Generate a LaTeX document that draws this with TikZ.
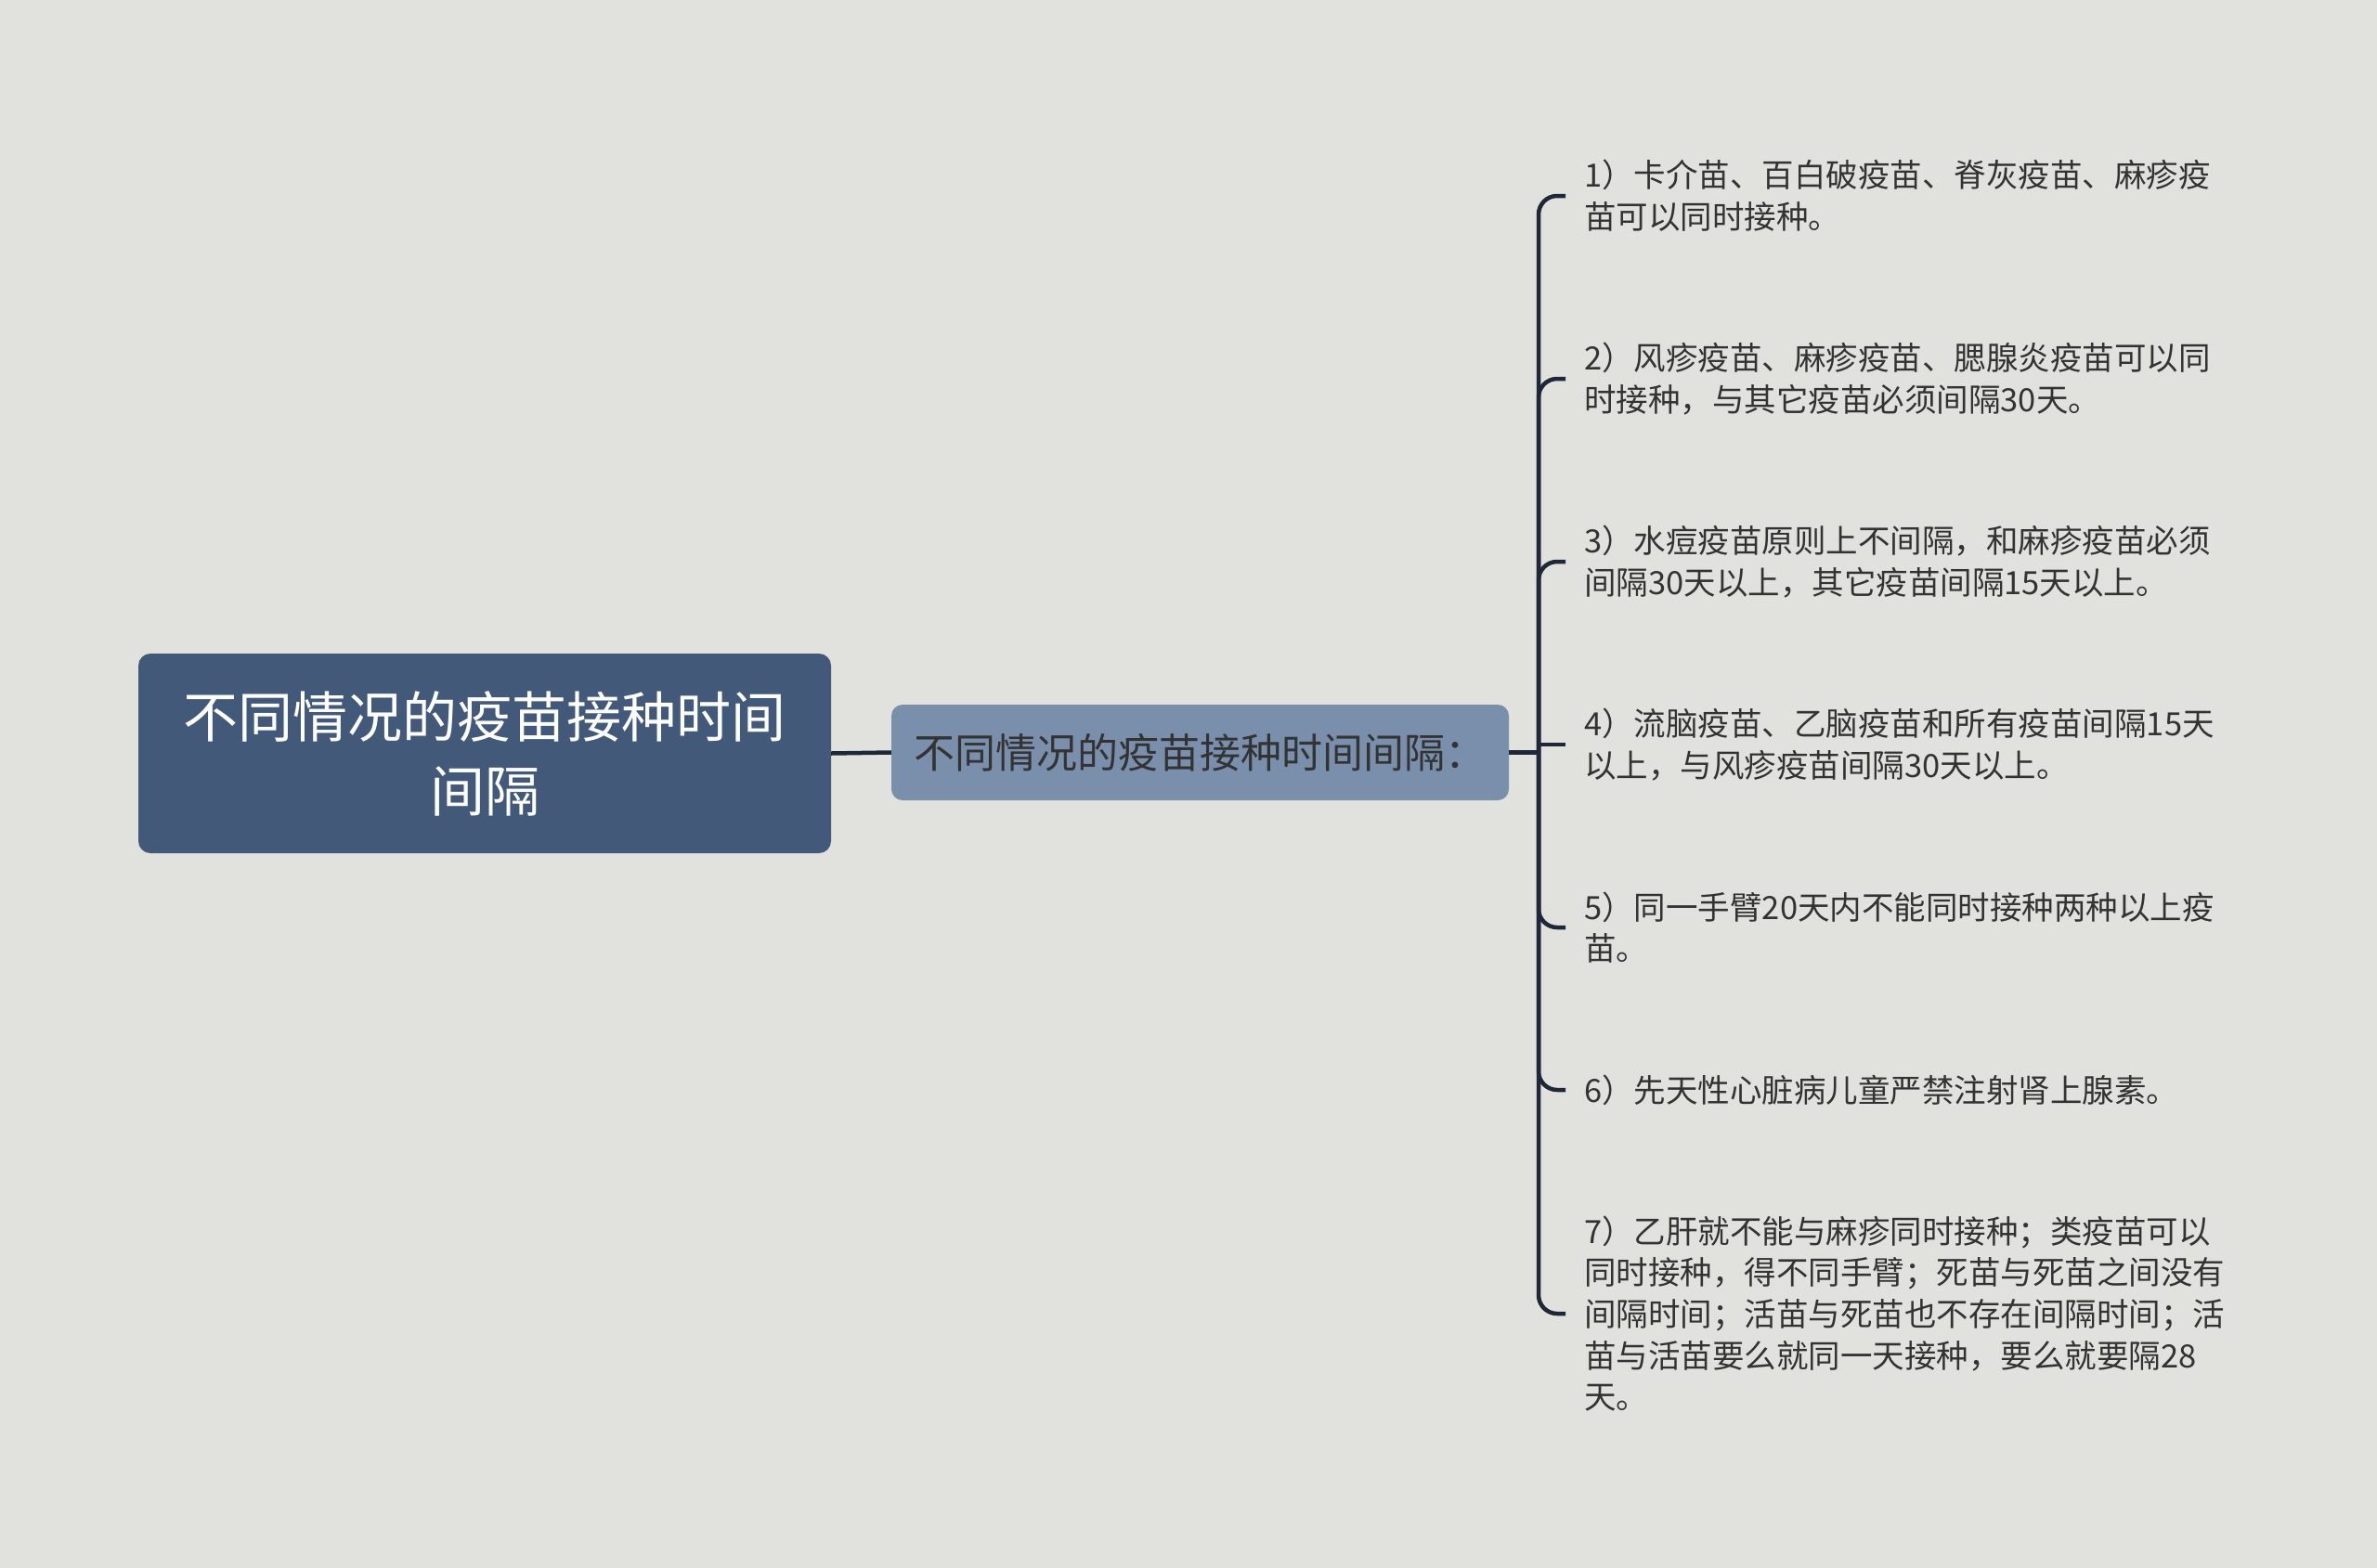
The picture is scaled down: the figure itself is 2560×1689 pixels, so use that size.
\documentclass[tikz,border=0pt]{standalone}
\usepackage{fontspec}
\newfontfamily\cjk{Noto Sans CJK SC}
\definecolor{bgc}{HTML}{E1E2DE}
\definecolor{rootc}{HTML}{42597A}
\definecolor{childc}{HTML}{7A8FAC}
\definecolor{linec}{HTML}{1F2838}
\definecolor{txtc}{HTML}{333333}
\begin{document}
\begin{tikzpicture}[x=1pt,y=-1pt,
  rootbox/.style={draw=none,fill=rootc,rounded corners=13pt,minimum width=746pt,minimum height=215pt,
    align=center,text=white,font=\cjk\fontsize{59}{80}\selectfont,inner sep=0pt},
  childbox/.style={draw=none,fill=childc,rounded corners=12pt,minimum width=665pt,minimum height=103pt,
    align=center,text=txtc,font=\cjk\fontsize{44}{56}\selectfont,inner sep=0pt},
  leaf/.style={anchor=west,align=left,text=txtc,font=\cjk\fontsize{34.5}{44.6}\selectfont,inner xsep=20pt,inner ysep=0pt},
  conn/.style={draw=linec,line width=4.5pt,rounded corners=20pt}]
\fill[bgc] (0,0) rectangle (2560,1689);
\useasboundingbox (0,0) rectangle (2560,1689);

\node[rootbox] (root) at (522,811.5) {不同情况的疫苗接种时间\\间隔};
\node[childbox] (child) at (1292.5,810.5) {不同情况的疫苗接种时间间隔：};

\node[leaf] (l1) at (1686,211) {1）卡介苗、百白破疫苗、脊灰疫苗、麻疹疫\\苗可以同时接种。};
\node[leaf] (l2) at (1686,408) {2）风疹疫苗、麻疹疫苗、腮腺炎疫苗可以同\\时接种，与其它疫苗必须间隔30天。};
\node[leaf] (l3) at (1686,605) {3）水痘疫苗原则上不间隔，和麻疹疫苗必须\\间隔30天以上，其它疫苗间隔15天以上。};
\node[leaf] (l4) at (1686,802) {4）流脑疫苗、乙脑疫苗和所有疫苗间隔15天\\以上，与风疹疫苗间隔30天以上。};
\node[leaf] (l5) at (1686,999) {5）同一手臂20天内不能同时接种两种以上疫\\苗。};
\node[leaf] (l6) at (1686,1174) {6）先天性心脏病儿童严禁注射肾上腺素。};
\node[leaf] (l7) at (1686,1415) {7）乙肝就不能与麻疹同时接种；类疫苗可以\\同时接种，得不同手臂；死苗与死苗之间没有\\间隔时间；活苗与死苗也不存在间隔时间；活\\苗与活苗要么就同一天接种，要么就要隔28\\天。};

\coordinate (hub) at (1657,810.5);
\draw[conn] (root.east) -- (child.west);
\draw[conn] (child.east) -- (hub);
\foreach \n in {l1,l2,l3,l5,l6,l7}{
  \draw[conn] (hub) |- (\n.west);
}
\draw[conn] (hub |- l4.west) -- (l4.west);
\end{tikzpicture}
\end{document}
